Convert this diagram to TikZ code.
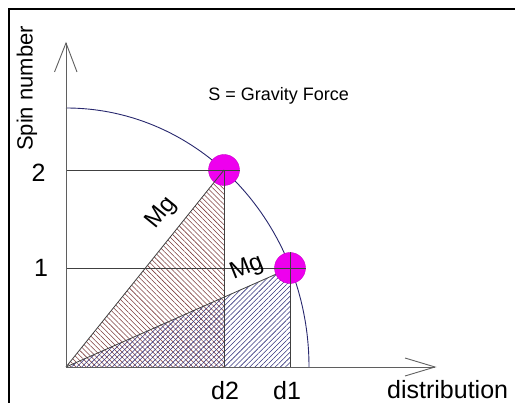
\documentclass[tikz,border=0pt]{standalone}
\usepackage{fontspec}
\setmainfont{Liberation Sans}
\usetikzlibrary{patterns.meta}
\definecolor{arcblue}{RGB}{40,40,110}
\definecolor{hatchbrown}{RGB}{125,60,60}
\definecolor{hatchblue}{RGB}{50,50,125}
\definecolor{ballmag}{RGB}{238,0,238}
\definecolor{axisgray}{RGB}{95,95,95}
\tikzset{
  lbl/.style={inner sep=0pt, text=black},
  ball/.style={circle, fill=ballmag, draw=ballmag!85!black, line width=0.4pt, minimum size=31pt, inner sep=0pt},
  gridline/.style={draw=black!75, line width=0.8pt},
  axisline/.style={draw=axisgray, line width=0.9pt},
  curve/.style={draw=arcblue, line width=0.9pt},
  brownhatch/.style={pattern={Lines[angle=-45,distance=3.6pt,line width=0.55pt]}, pattern color=hatchbrown},
  bluehatch/.style={pattern={Lines[angle=45,distance=3.6pt,line width=0.55pt]}, pattern color=hatchblue},
}
\begin{document}
\begin{tikzpicture}[x=1pt,y=-1pt]
\useasboundingbox (0,0) rectangle (515,403);
% key points
\coordinate (O) at (66,367);
\coordinate (Ytip) at (66,43);
\coordinate (YL) at (54.5,72);
\coordinate (YR) at (77,72);
\coordinate (Xtip) at (435,367);
\coordinate (XU) at (405,358);
\coordinate (XD) at (405,376);
\coordinate (B2) at (224,170);
\coordinate (B1) at (290,268);
\coordinate (A2) at (66,170);
\coordinate (A1) at (66,268);
\coordinate (E2) at (239.5,170);
\coordinate (E1) at (305.5,268);
\coordinate (F2) at (224,367);
\coordinate (F1) at (290,367);
\coordinate (T1) at (290,252.5);
\coordinate (ArcStart) at (309,367);
% hatched triangles
\fill[brownhatch] (O) -- (B2) -- (F2) -- cycle;
\fill[bluehatch] (O) -- (B1) -- (F1) -- cycle;
% quarter ellipse
\draw[curve] (ArcStart) arc[start angle=0, end angle=-90, x radius=243, y radius=259];
% lower diagonal and balls
\draw[gridline] (O) -- (B1);
\node[ball] (ball1) at (B1) {};
\node[ball] (ball2) at (B2) {};
\draw[gridline] (O) -- (B2);
% level lines
\draw[gridline] (A2) -- (E2);
\draw[gridline] (A1) -- (E1);
\draw[gridline] (B2) -- (F2);
\draw[gridline] (T1) -- (F1);
% axes
\draw[axisline] (O) -- (Ytip);
\draw[axisline] (YL) -- (Ytip) -- (YR);
\draw[axisline] (O) -- (Xtip);
\draw[axisline] (XU) -- (Xtip) -- (XD);
% labels
\node[lbl, font=\fontsize{22}{22}\selectfont, rotate=90] (spin) at (27,88.5) {Spin number};
\node[lbl, font=\fontsize{25}{25}\selectfont] (two) at (38.5,172.5) {2};
\node[lbl, font=\fontsize{25}{25}\selectfont] (one) at (41,268) {1};
\node[lbl, font=\fontsize{25}{25}\selectfont, anchor=base west] (d2) at (211,399.5) {d2};
\node[lbl, font=\fontsize{25}{25}\selectfont, anchor=base west] (d1) at (273,399.5) {d1};
\node[lbl, font=\fontsize{25}{25}\selectfont, anchor=base west] (dist) at (387,399) {distribution};
\node[lbl, font=\fontsize{18}{18}\selectfont, anchor=base east] (grav) at (349,101) {S = Gravity Force};
\node[lbl, font=\fontsize{24}{24}\selectfont, rotate=51] (mgA) at (162,213) {Mg};
\node[lbl, font=\fontsize{24}{24}\selectfont, rotate=22] (mgB) at (247,268) {Mg};
% frame (right and bottom edges lie outside the picture)
\coordinate (FrB) at (9,406);
\coordinate (FrTL) at (9,9);
\coordinate (FrR) at (518,9);
\draw[black, line width=1.3pt] (FrB) -- (FrTL) -- (FrR);
\end{tikzpicture}
\end{document}
